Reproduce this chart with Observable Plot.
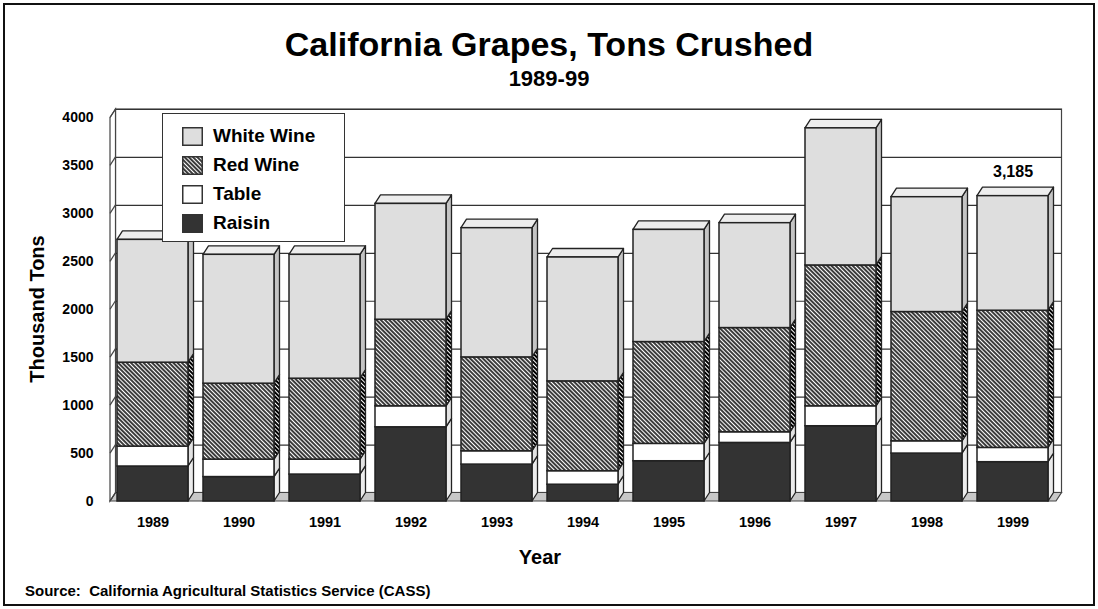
<!DOCTYPE html>
<html>
<head>
<meta charset="utf-8">
<script src="https://cdn.jsdelivr.net/npm/d3@7"></script>
<script src="https://cdn.jsdelivr.net/npm/@observablehq/plot@0.6"></script>
<style>
  html, body { margin: 0; padding: 0; background: #fff; }
  #wrap { position: relative; width: 1098px; height: 609px; overflow: hidden; background: #fff;
          font-family: "Liberation Sans", Arial, Helvetica, sans-serif; font-weight: bold; color: #000; }
  #wrap > * { position: absolute; }
  #frameBox { left: 3px; top: 3px; width: 1092px; height: 603px; border: 2px solid #111; box-sizing: border-box; }
  #title { left: 0; width: 1098px; top: 24px; text-align: center; font-size: 34px; line-height: 40px; }
  #subtitle { left: 0; width: 1098px; top: 66px; text-align: center; font-size: 22px; line-height: 26px; }
  #ytitle { left: 37px; top: 309px; font-size: 20px; white-space: nowrap; transform: translate(-50%, -50%) rotate(-90deg); }
  #xtitle { left: 540px; top: 557px; font-size: 20px; transform: translate(-50%, -50%); }
  #source { left: 25px; top: 582px; font-size: 15px; white-space: nowrap; }
  #legend { left: 162px; top: 113px; width: 183px; height: 129px; border: 1.5px solid #333; background: #fff; box-sizing: border-box; }
  .lg { position: absolute; left: 19px; height: 20px; display: flex; align-items: center; font-size: 19px; white-space: nowrap; }
  .lg svg { margin-right: 10px; }
</style>
</head>
<body>
<svg width="0" height="0" style="position:absolute">
  <defs>
    <pattern id="hatchFront" patternUnits="userSpaceOnUse" width="3" height="3" patternTransform="rotate(-45)">
      <rect width="3" height="3" fill="#ffffff"></rect>
      <rect width="2" height="3" fill="#3c3c3c"></rect>
    </pattern>
    <pattern id="hatchSide" patternUnits="userSpaceOnUse" width="3" height="3" patternTransform="rotate(-45)">
      <rect width="3" height="3" fill="#ffffff"></rect>
      <rect width="2" height="3" fill="#000000"></rect>
    </pattern>
  </defs>
</svg>
<div id="wrap">
  <div id="frameBox"></div>
  <div id="title">California Grapes, Tons Crushed</div>
  <div id="subtitle">1989-99</div>
  <div id="ytitle">Thousand Tons</div>
  <div id="xtitle">Year</div>
  <div id="source">Source:&nbsp; California Agricultural Statistics Service (CASS)</div>
</div>
<script>
// ---------- data (thousand tons) ----------
const years = ["1989", "1990", "1991", "1992", "1993", "1994", "1995", "1996", "1997", "1998", "1999"];
const seriesNames = ["Raisin", "Table", "Red Wine", "White Wine"];
const raisin    = [365, 255, 281, 774, 385, 175, 420, 611, 785, 500, 410];
const table     = [208, 182, 156, 219, 139, 141, 181, 111, 208, 128, 149];
const redWine   = [875, 792, 844, 903, 979, 937, 1062, 1087, 1469, 1348, 1431];
const whiteWine = [1281, 1344, 1292, 1208, 1348, 1292, 1170, 1094, 1430, 1198, 1195];
const yTicks = [0, 500, 1000, 1500, 2000, 2500, 3000, 3500, 4000];
const calloutYear = "1999";

// ---------- styles ----------
const frontFill = ["#333333", "#ffffff", "url(#hatchFront)", "#dedede"];
const sideFill  = ["#ececec", "#e2e2e2", "url(#hatchSide)", "#c4c4c4"];
const topFill = "#ededed";
const DX = 5.5, DY = 8.5;
const FONT = '"Liberation Sans", Arial, Helvetica, sans-serif';

const columns = [raisin, table, redWine, whiteWine];
const data = years.flatMap((yr, i) => seriesNames.map((s, k) => ({year: yr, series: s, k, value: columns[k][i]})));
const totals = years.map((yr, i) => ({year: yr, total: d3.sum(columns, c => c[i])}));
const callout = totals.filter(d => d.year === calloutYear);

function pts(a) { return a.map(p => p.join(",")).join(" "); }

// back wall
function backWall(index, scales, values, dim) {
  const g = d3.create("svg:g");
  const x0 = dim.marginLeft, x1 = dim.width - dim.marginRight;
  const yb = scales.y(yTicks[0]), yt = scales.y(yTicks[yTicks.length - 1]);
  g.append("rect").attr("x", x0 + DX).attr("y", yt - DY).attr("width", x1 - x0).attr("height", yb - yt)
    .attr("fill", "#fff").attr("stroke", "#444").attr("stroke-width", 1.2);
  return g.node();
}
// left wall + floor
function sideWalls(index, scales, values, dim) {
  const g = d3.create("svg:g");
  const x0 = dim.marginLeft, x1 = dim.width - dim.marginRight;
  const yb = scales.y(yTicks[0]), yt = scales.y(yTicks[yTicks.length - 1]);
  g.append("polygon").attr("points", pts([[x0, yb], [x1, yb], [x1 + DX, yb - DY], [x0 + DX, yb - DY]]))
    .attr("fill", "#c8c8c8").attr("stroke", "#444").attr("stroke-width", 1.2);
  g.append("polygon").attr("points", pts([[x0, yb], [x0, yt], [x0 + DX, yt - DY], [x0 + DX, yb - DY]]))
    .attr("fill", "#fff").attr("stroke", "#444").attr("stroke-width", 1.2);
  for (const t of yTicks) {
    const y = scales.y(t);
    g.append("line").attr("x1", x0).attr("y1", y).attr("x2", x0 + DX).attr("y2", y - DY)
      .attr("stroke", "#444").attr("stroke-width", 1.2);
  }
  return g.node();
}
// side & top faces of the bars
function barFaces(index, scales, values, dim) {
  const g = d3.create("svg:g").attr("stroke", "#222").attr("stroke-width", 1.3).attr("stroke-linejoin", "round");
  const bw = scales.x.bandwidth();
  const top = seriesNames[seriesNames.length - 1];
  for (const i of index) {
    const x = values.x[i] + bw;
    const ya = Math.min(values.y1[i], values.y2[i]), yb = Math.max(values.y1[i], values.y2[i]);
    g.append("polygon").attr("points", pts([[x, ya], [x + DX, ya - DY], [x + DX, yb - DY], [x, yb]]))
      .attr("fill", sideFill[data[i].k]);
    if (data[i].series === top) {
      const xl = values.x[i];
      g.append("polygon").attr("points", pts([[xl, ya], [xl + DX, ya - DY], [x + DX, ya - DY], [x, ya]]))
        .attr("fill", topFill);
    }
  }
  return g.node();
}

const chart = Plot.plot({
  width: 1098, height: 609,
  marginLeft: 110, marginRight: 42, marginTop: 117.5, marginBottom: 108,
  style: {fontFamily: FONT, fontWeight: "bold", color: "#000", background: "transparent", overflow: "visible"},
  x: {domain: years, paddingInner: 0.17, paddingOuter: 0.085, axis: null},
  y: {domain: [yTicks[0], yTicks[yTicks.length - 1]], axis: null},
  color: {domain: seriesNames, range: frontFill},
  marks: [
    Plot.frame({render: backWall}),
    Plot.ruleY(yTicks.slice(1), {dx: DX, dy: -DY, stroke: "#333", strokeWidth: 1.2}),
    Plot.frame({render: sideWalls}),
    Plot.barY(data, {x: "year", y: "value", fill: "series", render: barFaces}),
    Plot.barY(data, {x: "year", y: "value", fill: "series", stroke: "#222", strokeWidth: 1.5}),
    Plot.axisY(yTicks, {tickSize: 0, tickPadding: 17, fontSize: 14, fontWeight: "bold", tickFormat: "d", label: null}),
    Plot.axisX({tickSize: 0, tickPadding: 15, fontSize: 14.5, fontWeight: "bold", label: null}),
    Plot.text(callout, {x: "year", y: "total", text: d => d3.format(",")(d.total), dy: -24, fontSize: 16, fontWeight: "bold"})
  ]
});
chart.style.position = "absolute";
chart.style.left = "0px";
chart.style.top = "0px";
const wrap = document.getElementById("wrap");
wrap.insertBefore(chart, wrap.children[1]);

// legend (top entry first)
const legend = document.createElement("div");
legend.id = "legend";
seriesNames.slice().reverse().forEach((s, j) => {
  const k = seriesNames.indexOf(s);
  const row = document.createElement("div");
  row.className = "lg";
  row.style.top = (12 + j * 29) + "px";
  row.innerHTML = `<svg width="21" height="19"><rect x="0.75" y="0.75" width="19.5" height="17.5" fill="${frontFill[k]}" stroke="#333" stroke-width="1.5"></rect></svg><span>${s}</span>`;
  legend.appendChild(row);
});
wrap.appendChild(legend);
</script>
</body>
</html>
